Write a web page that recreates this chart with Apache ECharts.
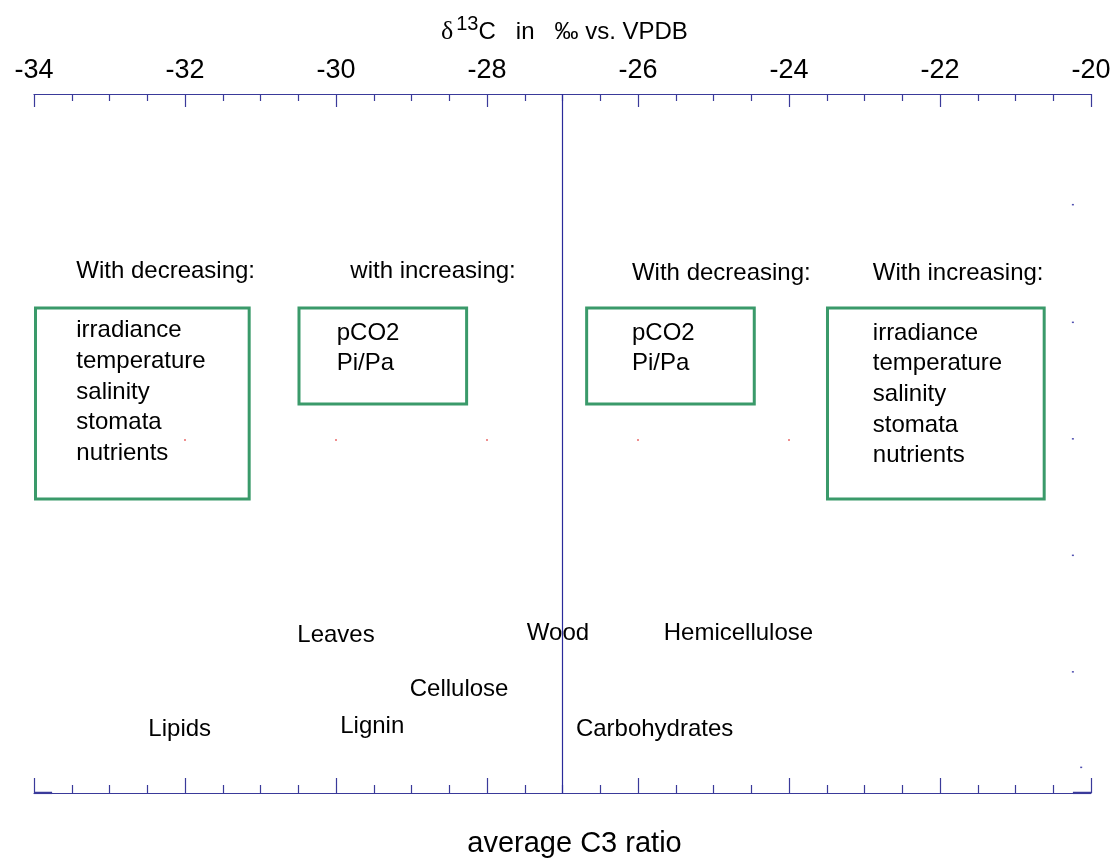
<!DOCTYPE html>
<html>
<head>
<meta charset="utf-8">
<script src="https://cdn.jsdelivr.net/npm/echarts@6/dist/echarts.min.js"></script>
<style>
  html, body { margin: 0; padding: 0; background: #ffffff; }
  #chart { width: 1120px; height: 861px; }
</style>
</head>
<body>
<div id="chart"></div>
<script>
// δ13C scale (‰ vs. VPDB) and tick labels
const xMin = -34, xMax = -20, xStep = 2;
const averageC3 = -27;

// Environmental-effect boxes: [x from, x to, y top, y bottom]
const boxNames = ['decLeft', 'incLeft', 'decRight', 'incRight'];
const boxX0 = [-34.0, -30.51, -26.70, -23.51];
const boxX1 = [-31.15, -28.27, -24.46, -20.62];
const boxYTop = [4.163, 4.163, 4.163, 4.163];
const boxYBottom = [2.524, 3.339, 3.339, 2.524];

// Headings above each box
const headingText = ['With decreasing:', 'with increasing:', 'With decreasing:', 'With increasing:'];
const headingX = [-33.44, -29.81, -26.08, -22.89];
const headingY = [4.48, 4.48, 4.46, 4.46];

// Factors listed inside each box
const factorText = [
  ['irradiance', 'temperature', 'salinity', 'stomata', 'nutrients'],
  ['pCO2', 'Pi/Pa'],
  ['pCO2', 'Pi/Pa'],
  ['irradiance', 'temperature', 'salinity', 'stomata', 'nutrients']
];
const factorX = [-33.44, -29.99, -26.08, -22.89];
const factorY = [4.10, 4.08, 4.08, 4.08];

// Plant components and their typical δ13C position
const components = ['Lipids', 'Leaves', 'Lignin', 'Cellulose', 'Wood', 'Carbohydrates', 'Hemicellulose'];
const componentX = [-32.07, -30.0, -29.52, -28.37, -27.06, -25.78, -24.67];
const componentY = [0.55, 1.35, 0.575, 0.89, 1.373, 0.55, 1.373];

// Small grid marks
const redDotX = [-32, -30, -28, -26, -24];
const redDotY = [3.03, 3.03, 3.03, 3.03, 3.03];
const blueDotX = [-20.24, -20.24, -20.24, -20.24, -20.24, -20.13];
const blueDotY = [5.05, 4.04, 3.04, 2.04, 1.04, 0.22];

const axisColor = '#3a3a9a';
const boxColor = '#3a9a6a';
const font = 'Liberation Sans, Arial, sans-serif';

const chart = echarts.init(document.getElementById('chart'), null, { renderer: 'canvas' });

const xAxisCommon = {
  type: 'value',
  min: xMin,
  max: xMax,
  interval: xStep,
  splitLine: { show: false },
  axisLine: { show: true, onZero: false, lineStyle: { color: axisColor, width: 1.2 } },
  axisTick: { show: true, inside: true, length: 13, lineStyle: { color: axisColor, width: 1.2 } },
  minorTick: { show: true, splitNumber: 4, length: 7, lineStyle: { color: axisColor, width: 1.2 } },
  minorSplitLine: { show: false }
};

const textLabel = {
  show: true,
  position: 'inside',
  color: '#000',
  opacity: 1,
  fontFamily: font,
  fontSize: 24,
  textBorderWidth: 0,
  formatter: p => p.name
};

const option = {
  backgroundColor: '#ffffff',
  animation: false,
  title: {
    text: '{d|δ}{s|13}{c|C}{n|   in   ‰ vs. VPDB}',
    left: 436,
    top: 8,
    textStyle: {
      fontWeight: 'normal',
      rich: {
        d: { fontFamily: 'Liberation Serif, serif', fontSize: 26, fontWeight: 'normal', color: '#000', padding: [6, 0, 0, 0] },
        s: { fontFamily: font, fontSize: 20, fontWeight: 'normal', color: '#000', padding: [0, 0, 10, 3] },
        c: { fontFamily: font, fontSize: 24, fontWeight: 'normal', color: '#000', padding: [6, 0, 0, 0] },
        n: { fontFamily: font, fontSize: 24, fontWeight: 'normal', color: '#000', padding: [6, 0, 0, 0] }
      }
    }
  },
  grid: { left: 34, right: 29, top: 94, bottom: 68, containLabel: false, outerBoundsMode: 'none' },
  xAxis: [
    Object.assign({}, xAxisCommon, {
      position: 'top',
      axisLabel: { show: true, margin: 10, color: '#000', fontFamily: font, fontSize: 27 }
    }),
    Object.assign({}, xAxisCommon, {
      position: 'bottom',
      axisTick: { show: true, inside: true, length: 15, lineStyle: { color: axisColor, width: 1.2 } },
      minorTick: { show: true, splitNumber: 4, length: 8, lineStyle: { color: axisColor, width: 1.2 } },
      axisLabel: { show: false },
      name: 'average C3 ratio',
      nameLocation: 'middle',
      nameGap: 36,
      nameTextStyle: { color: '#000', fontFamily: font, fontSize: 29, padding: [0, 0, 0, 24] }
    })
  ],
  yAxis: {
    type: 'value',
    min: 0,
    max: 6,
    show: false
  },
  series: [
    {
      // average C3 reference line
      type: 'line',
      xAxisIndex: 0,
      data: [[averageC3, 0], [averageC3, 6]],
      symbol: 'none',
      lineStyle: { color: '#2a2a9a', width: 1.2 },
      silent: true,
      z: 3
    },
    {
      // boxes
      type: 'custom',
      xAxisIndex: 0,
      data: boxNames.map((n, i) => [boxX0[i], boxX1[i], boxYTop[i], boxYBottom[i]]),
      renderItem: function (params, api) {
        const p0 = api.coord([api.value(0), api.value(2)]);
        const p1 = api.coord([api.value(1), api.value(3)]);
        return {
          type: 'rect',
          shape: { x: p0[0] + 1.5, y: p0[1], width: p1[0] - p0[0] - 1.5, height: p1[1] - p0[1] },
          style: { fill: 'none', stroke: boxColor, lineWidth: 3 }
        };
      },
      silent: true,
      z: 4
    },
    {
      // headings
      type: 'scatter',
      xAxisIndex: 0,
      symbolSize: 0,
      itemStyle: { opacity: 1 },
      data: headingText.map((t, i) => ({ value: [headingX[i], headingY[i]], name: t })),
      label: Object.assign({}, textLabel, { align: 'left', verticalAlign: 'middle' }),
      silent: true,
      z: 5
    },
    {
      // box contents
      type: 'scatter',
      xAxisIndex: 0,
      symbolSize: 0,
      itemStyle: { opacity: 1 },
      data: factorText.map((lines, i) => ({ value: [factorX[i], factorY[i]], name: lines.join('\n') })),
      label: Object.assign({}, textLabel, { align: 'left', verticalAlign: 'top', lineHeight: 30.7 }),
      silent: true,
      z: 5
    },
    {
      // plant components
      type: 'scatter',
      xAxisIndex: 0,
      symbolSize: 0,
      itemStyle: { opacity: 1 },
      data: components.map((c, i) => ({ value: [componentX[i], componentY[i]], name: c })),
      label: Object.assign({}, textLabel, { align: 'center', verticalAlign: 'middle' }),
      silent: true,
      z: 5
    },
    {
      type: 'scatter',
      xAxisIndex: 0,
      symbol: 'rect',
      symbolSize: [2, 1],
      itemStyle: { color: '#e02020', opacity: 1 },
      data: redDotX.map((x, i) => [x, redDotY[i]]),
      silent: true,
      z: 2
    },
    {
      type: 'scatter',
      xAxisIndex: 0,
      symbol: 'rect',
      symbolSize: [2, 1.5],
      itemStyle: { color: '#5050b0', opacity: 1 },
      data: blueDotX.map((x, i) => [x, blueDotY[i]]),
      silent: true,
      z: 2
    },
    {
      // heavier stroke at both ends of the lower axis
      type: 'line',
      xAxisIndex: 0,
      symbol: 'none',
      lineStyle: { color: axisColor, width: 2.5 },
      data: [[-34, 0], [-33.76, 0], null, [-20.24, 0], [-20, 0]],
      connectNulls: false,
      silent: true,
      z: 3
    }
  ]
};

chart.setOption(option);
</script>
</body>
</html>
